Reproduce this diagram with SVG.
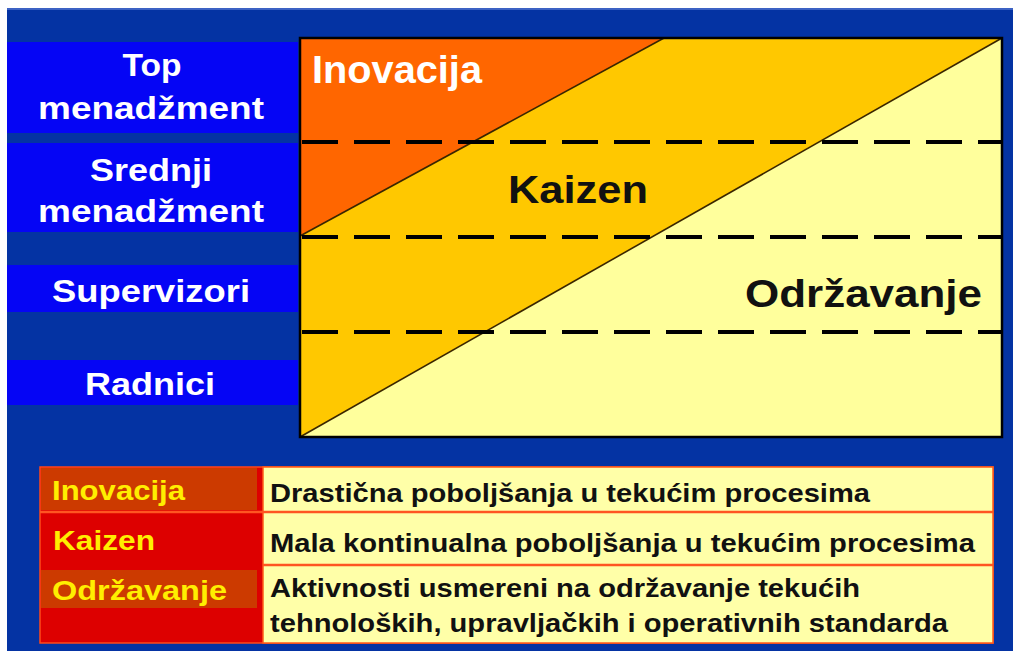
<svg xmlns="http://www.w3.org/2000/svg" width="1015" height="651" viewBox="0 0 1015 651">
  <style>
    .lbl { font-family: "Liberation Sans", Arial, sans-serif; font-weight: bold; fill: #ffffff; font-size: 32px; text-anchor: middle; }
    .big { font-family: "Liberation Sans", Arial, sans-serif; font-weight: bold; font-size: 38px; }
    .lg { font-family: "Liberation Sans", Arial, sans-serif; font-weight: bold; font-size: 28px; fill: #ffee00; }
    .desc { font-family: "Liberation Sans", Arial, sans-serif; font-weight: bold; font-size: 25px; fill: #111111; }
    .band { fill: #0505f5; }
    .dash { stroke: #000000; stroke-width: 4; stroke-dasharray: 36 16; fill: none; }
    .diag { stroke: #3a2600; stroke-width: 1.6; fill: none; }
  </style>
  <rect x="0" y="0" width="1015" height="651" fill="#ffffff"/>
  <rect x="7" y="8" width="1006" height="643" fill="#0433a3"/>
  <rect x="7" y="8" width="1006" height="2" fill="#3c62c4"/>

  <g id="levels">
    <g id="level-top">
      <rect class="band" x="7" y="42" width="291" height="91"/>
      <text class="lbl" x="152" y="76" textLength="59" lengthAdjust="spacingAndGlyphs">Top</text>
      <text class="lbl" x="151" y="119" textLength="226" lengthAdjust="spacingAndGlyphs">menadžment</text>
    </g>
    <g id="level-middle">
      <rect class="band" x="7" y="143" width="291" height="89"/>
      <text class="lbl" x="151" y="181" textLength="122" lengthAdjust="spacingAndGlyphs">Srednji</text>
      <text class="lbl" x="151" y="222" textLength="226" lengthAdjust="spacingAndGlyphs">menadžment</text>
    </g>
    <g id="level-supervisors">
      <rect class="band" x="7" y="265" width="291" height="47"/>
      <text class="lbl" x="151" y="302" textLength="198" lengthAdjust="spacingAndGlyphs">Supervizori</text>
    </g>
    <g id="level-workers">
      <rect class="band" x="7" y="360" width="291" height="45"/>
      <text class="lbl" x="150" y="395" textLength="130" lengthAdjust="spacingAndGlyphs">Radnici</text>
    </g>
  </g>

  <g id="chart">
    <rect x="300" y="38" width="702" height="399" fill="#ffff9c"/>
    <g id="kaizen">
      <polygon points="300,38 1002,38 300,437" fill="#ffc800"/>
    </g>
    <g id="inovacija">
      <polygon points="300,38 664,38 300,236" fill="#ff6600"/>
    </g>
  </g>

  <g id="connectors">
    <line class="diag" x1="664" y1="38" x2="300" y2="236"/>
    <line class="diag" x1="1002" y1="38" x2="300" y2="437"/>
    <line class="dash" x1="302" y1="142" x2="1002" y2="142"/>
    <line class="dash" x1="302" y1="237" x2="1002" y2="237"/>
    <line class="dash" x1="302" y1="332" x2="1002" y2="332"/>
    <rect x="300" y="38" width="702" height="399" fill="none" stroke="#000000" stroke-width="2.5"/>
  </g>

  <g id="chart-labels">
    <text class="big" x="312" y="83" fill="#ffffff" textLength="170" lengthAdjust="spacingAndGlyphs">Inovacija</text>
    <text class="big" x="508" y="203" fill="#111111" font-size="36" textLength="140" lengthAdjust="spacingAndGlyphs">Kaizen</text>
    <text class="big" x="745" y="307" fill="#111111" textLength="237" lengthAdjust="spacingAndGlyphs">Održavanje</text>
  </g>

  <g id="legend">
    <rect x="40" y="467" width="953" height="176" fill="#dd0000" stroke="#ff4a1a" stroke-width="1.5"/>
    <rect x="263" y="467" width="730" height="176" fill="#ffffa8" stroke="#ff5a1a" stroke-width="1.5"/>
    <g id="legend-inovacija">
      <rect x="41" y="468" width="216" height="42" fill="#cc3a00"/>
      <text class="lg" x="52" y="500" textLength="133" lengthAdjust="spacingAndGlyphs">Inovacija</text>
      <text class="desc" x="270" y="502" textLength="600" lengthAdjust="spacingAndGlyphs">Drastična poboljšanja u tekućim procesima</text>
    </g>
    <line x1="40" y1="512" x2="993" y2="512" stroke="#ff5522" stroke-width="2.5"/>
    <g id="legend-kaizen">
      <text class="lg" x="53" y="550" textLength="102" lengthAdjust="spacingAndGlyphs">Kaizen</text>
      <text class="desc" x="270" y="552" textLength="705" lengthAdjust="spacingAndGlyphs">Mala kontinualna poboljšanja u tekućim procesima</text>
    </g>
    <line x1="263" y1="565" x2="993" y2="565" stroke="#ff5522" stroke-width="2.5"/>
    <g id="legend-odrzavanje">
      <rect x="41" y="570" width="216" height="38" fill="#cc3a00"/>
      <text class="lg" x="52" y="600" textLength="175" lengthAdjust="spacingAndGlyphs">Održavanje</text>
      <text class="desc" x="270" y="597" textLength="590" lengthAdjust="spacingAndGlyphs">Aktivnosti usmereni na održavanje tekućih</text>
      <text class="desc" x="270" y="632" textLength="678" lengthAdjust="spacingAndGlyphs">tehnoloških, upravljačkih i operativnih standarda</text>
    </g>
  </g>
</svg>
